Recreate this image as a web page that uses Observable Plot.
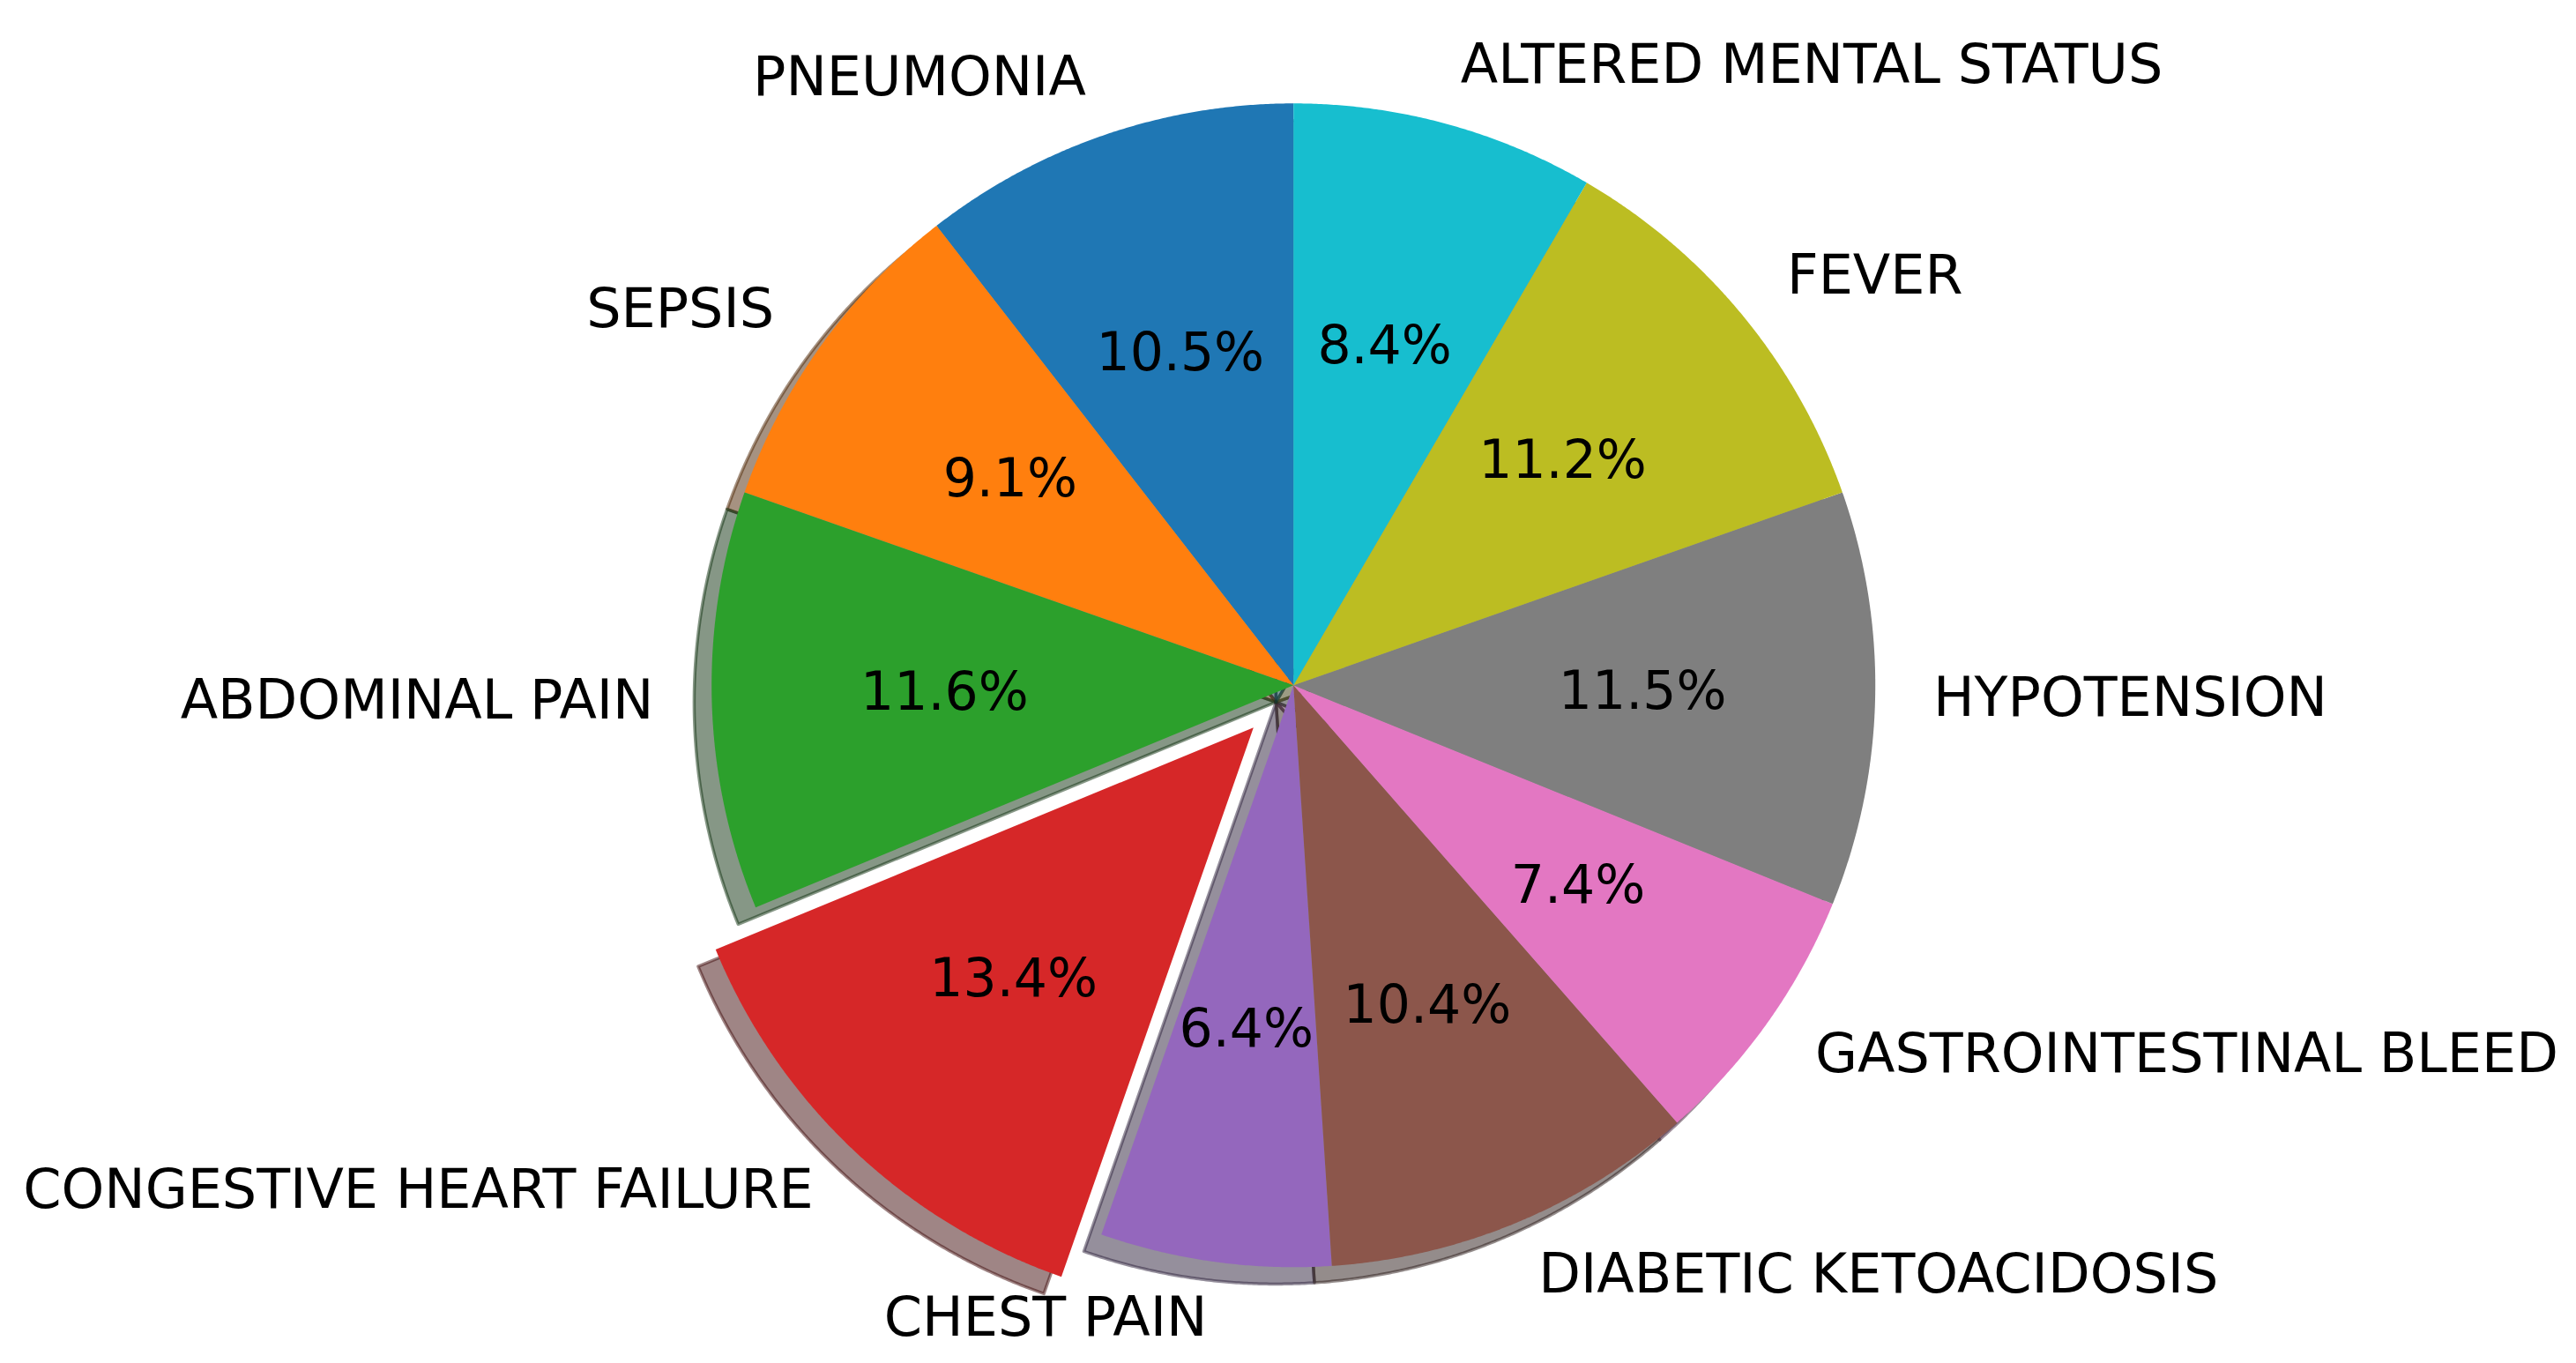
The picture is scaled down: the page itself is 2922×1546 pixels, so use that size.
<!DOCTYPE html>
<html>
<head>
<meta charset="utf-8">
<script src="https://cdn.jsdelivr.net/npm/d3@7"></script>
<script src="https://cdn.jsdelivr.net/npm/@observablehq/plot@0.6"></script>
<style>
  html, body { margin: 0; padding: 0; background: #ffffff; }
  #chart svg { display: block; }
</style>
</head>
<body>
<div id="chart"></div>
<script>
// ---- data ----
const categories = [
  "PNEUMONIA", "SEPSIS", "ABDOMINAL PAIN", "CONGESTIVE HEART FAILURE", "CHEST PAIN",
  "DIABETIC KETOACIDOSIS", "GASTROINTESTINAL BLEED", "HYPOTENSION", "FEVER", "ALTERED MENTAL STATUS"
];
const shares = [10.5, 9.1, 11.6, 13.4, 6.4, 10.4, 7.4, 11.5, 11.2, 8.4];
const explodedCategory = "CONGESTIVE HEART FAILURE";

// ---- style / layout ----
const palette = ["#1f77b4", "#ff7f0e", "#2ca02c", "#d62728", "#9467bd",
                 "#8c564b", "#e377c2", "#7f7f7f", "#bcbd22", "#17becf"];
const W = 2922, H = 1546;
const CX = 1466.7, CY = 776.8, R = 660;   // pie centre and radius in pixels
const explodeBy = 0.1, labelDist = 1.1, pctDist = 0.6;
const shadowDX = -0.03, shadowDY = -0.029;
const labelFontSize = 62, pctFontSize = 60;

// ---- geometry from the data (matplotlib-style pie: start 90°, counter-clockwise) ----
const total = d3.sum(shares);
let cum = 0;
const slices = categories.map((cat, i) => {
  const frac = shares[i] / total;
  const a0 = 90 + 360 * cum;
  const a1 = a0 + 360 * frac;
  cum += frac;
  const mid = (a0 + a1) / 2 * Math.PI / 180;
  const e = cat === explodedCategory ? explodeBy : 0;
  return {cat, value: shares[i], a0, a1, ox: e * Math.cos(mid), oy: e * Math.sin(mid), mid};
});

function wedgePoints(s, dx, dy, key) {
  const pts = [{key, x: s.ox + dx, y: s.oy + dy}];
  const n = Math.max(2, Math.ceil((s.a1 - s.a0) / 0.25));
  for (let k = 0; k <= n; ++k) {
    const a = (s.a0 + (s.a1 - s.a0) * k / n) * Math.PI / 180;
    pts.push({key, x: s.ox + dx + Math.cos(a), y: s.oy + dy + Math.sin(a)});
  }
  return pts;
}

const wedges = slices.flatMap(s => wedgePoints(s, 0, 0, s.cat));
const shadows = slices.flatMap(s => wedgePoints(s, shadowDX, shadowDY, "shadow " + s.cat));

const labels = slices.map(s => {
  const x = s.ox + labelDist * Math.cos(s.mid);
  const y = s.oy + labelDist * Math.sin(s.mid);
  return {cat: s.cat, x, y, right: x > 0};
});
const pcts = slices.map(s => ({
  x: s.ox + pctDist * Math.cos(s.mid),
  y: s.oy + pctDist * Math.sin(s.mid),
  text: (s.value / total * 100).toFixed(1) + "%"
}));

const shadowColor = c => { const r = d3.rgb(c); return d3.rgb(r.r * 0.3, r.g * 0.3, r.b * 0.3).formatHex(); };

const chart = Plot.plot({
  width: W,
  height: H,
  margin: 0,
  style: {background: "#ffffff", fontFamily: "'DejaVu Sans', sans-serif"},
  x: {domain: [-CX / R, (W - CX) / R], axis: null},
  y: {domain: [-(H - CY) / R, CY / R], axis: null},
  color: {
    domain: [...categories, ...categories.map(c => "shadow " + c)],
    range: [...palette, ...palette.map(shadowColor)]
  },
  marks: [
    Plot.line(shadows, {x: "x", y: "y", z: "key", fill: "key", stroke: "key",
      curve: "linear-closed", fillOpacity: 0.5, strokeOpacity: 0.5, strokeWidth: 3.5}),
    Plot.line(wedges, {x: "x", y: "y", z: "key", fill: "key", stroke: "none", curve: "linear-closed"}),
    Plot.text(labels.filter(d => d.right), {x: "x", y: "y", text: "cat", textAnchor: "start",
      fontSize: labelFontSize, fontFamily: "DejaVu Sans", fill: "#000", dy: -2}),
    Plot.text(labels.filter(d => !d.right), {x: "x", y: "y", text: "cat", textAnchor: "end",
      fontSize: labelFontSize, fontFamily: "DejaVu Sans", fill: "#000", dy: -2}),
    Plot.text(pcts, {x: "x", y: "y", text: "text", textAnchor: "middle",
      fontSize: pctFontSize, fontFamily: "DejaVu Sans", fill: "#000", dy: -2})
  ]
});
document.getElementById("chart").appendChild(chart);
</script>
</body>
</html>
